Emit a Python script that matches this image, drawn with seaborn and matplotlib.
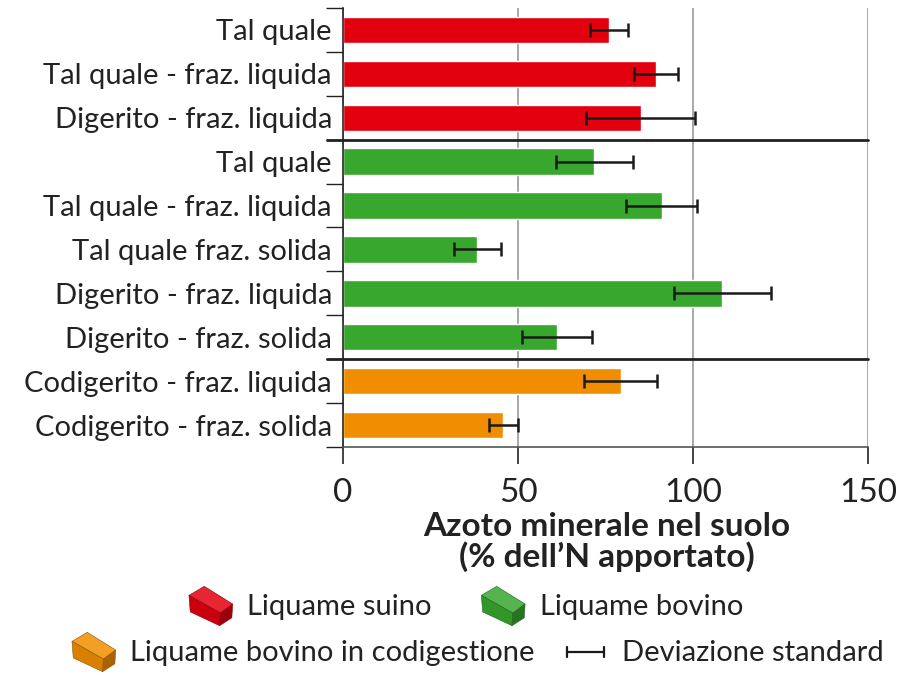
import numpy as np
import pandas as pd
import seaborn as sns
import matplotlib.pyplot as plt
import matplotlib.colors as mcolors
from matplotlib.patches import Patch, Polygon
from matplotlib.lines import Line2D
from matplotlib.legend_handler import HandlerBase

# dati
etichette = ['Tal quale', 'Tal quale - fraz. liquida', 'Digerito - fraz. liquida',
             'Tal quale', 'Tal quale - fraz. liquida', 'Tal quale fraz. solida',
             'Digerito - fraz. liquida', 'Digerito - fraz. solida',
             'Codigerito - fraz. liquida', 'Codigerito - fraz. solida']
gruppi = ['suino'] * 3 + ['bovino'] * 5 + ['codigestione'] * 2
valori = [76, 89.3, 85, 71.8, 91, 38.4, 108.4, 61, 79.3, 45.8]
dev_std = [5.4, 6.3, 15.5, 11, 10.1, 6.8, 13.8, 10, 10.5, 4.2]
tick_x = [0, 50, 100, 150]
separatori = [2.5, 7.5]

colori = {'suino': '#E2000F', 'bovino': '#37A72E', 'codigestione': '#F18E00'}
legenda1 = ['Liquame suino', 'Liquame bovino']
legenda2 = ['Liquame bovino in codigestione', 'Deviazione standard']

sns.set_theme(style='white')
plt.rcParams['font.family'] = ['Lato', 'DejaVu Sans']
FS = 21


class HandlerBox(HandlerBase):
    # mattoncino 3D come nella legenda originale
    def create_artists(self, legend, orig_handle, xdescent, ydescent,
                       width, height, fontsize, trans):
        c = np.array(mcolors.to_rgb(orig_handle.get_facecolor()))
        x0, y0, w, h = -xdescent, -ydescent, width, height

        def P(pts, col):
            col = np.clip(col, 0, 1)
            return Polygon([(x0 + a * w, y0 + b * h) for a, b in pts],
                           closed=True, facecolor=col, edgecolor=c * 0.6,
                           lw=0.4, transform=trans)
        top = P([(0, .77), (.35, 1), (1, .55), (.72, .32)], c + (1 - c) * 0.15)
        front = P([(0, .77), (.72, .32), (.7, 0), (.03, .35)], c * 0.9)
        side = P([(.72, .32), (1, .55), (.98, .2), (.7, 0)], c * 0.7)
        return [top, front, side]


class ErrKey:
    pass


class HandlerErr(HandlerBase):
    def create_artists(self, legend, orig_handle, xdescent, ydescent,
                       width, height, fontsize, trans):
        x0, y0, w, h = -xdescent, -ydescent, width, height
        ym = y0 + h / 2
        a, b = x0 + 0.08 * w, x0 + 0.92 * w
        st = dict(color='#1a1a1a', lw=1.6, transform=trans)
        return [Line2D([a, b], [ym, ym], **st),
                Line2D([a, a], [ym - 0.12 * h, ym + 0.12 * h], **st),
                Line2D([b, b], [ym - 0.12 * h, ym + 0.12 * h], **st)]


fig = plt.figure(figsize=(9.17, 6.82), dpi=100)
ax = fig.add_axes([343 / 917, 1 - 447 / 682, 525 / 917, 439 / 682])

df = pd.DataFrame({'id': [str(i) for i in range(len(valori))],
                   'valore': valori, 'gruppo': gruppi})
sns.barplot(data=df, x='valore', y='id', hue='gruppo', palette=colori,
            dodge=False, width=0.6, saturation=1, legend=False, ax=ax,
            orient='h', errorbar=None)
ax.errorbar(valori, np.arange(len(valori)), xerr=dev_std, fmt='none',
            ecolor='#1a1a1a', elinewidth=1.8, capsize=5, capthick=1.8, zorder=5)

ax.set_xlim(0, 150)
ax.set_ylim(len(valori) - 0.5, -0.5)
ax.set_xticks(tick_x)
ax.set_xticklabels([str(t) for t in tick_x], fontsize=24, color='#222')
ax.set_yticks(range(len(etichette)))
ax.set_yticklabels(etichette, fontsize=FS, color='#222')
ax.set_yticks(np.arange(-0.5, len(valori), 1), minor=True)
ax.tick_params(axis='y', which='major', length=0, pad=8)
ax.tick_params(axis='y', which='minor', length=12, width=1, color='#222', left=True)
ax.tick_params(axis='x', length=12, width=1.2, color='#222', pad=10, bottom=True)
ax.xaxis.grid(True, color='#999999', lw=1.2)
ax.set_axisbelow(True)
ax.set_xlabel('')
ax.set_ylabel('')
for s in ['top', 'right']:
    ax.spines[s].set_visible(False)
ax.spines['left'].set_color('#222')
ax.spines['left'].set_linewidth(1.2)
ax.spines['bottom'].set_color('#555')
ax.spines['bottom'].set_linewidth(1.2)

for yb in separatori:
    ax.plot([-0.03, 1], [yb, yb], transform=ax.get_yaxis_transform(),
            color='#222', lw=2, clip_on=False, zorder=6)

fig.text(607 / 917, 1 - 542 / 682, 'Azoto minerale nel suolo\n(% dell’N apportato)',
         ha='center', va='center', fontsize=24, fontweight='bold',
         color='#222', linespacing=1.0)

kw = dict(loc='center', ncol=2, frameon=False, fontsize=FS, handlelength=1.5,
          handleheight=1.7, handletextpad=0.5, labelcolor='#222')
leg1 = fig.legend([Patch(facecolor=colori['suino']), Patch(facecolor=colori['bovino'])],
                  legenda1, bbox_to_anchor=(466 / 917, 1 - 606 / 682),
                  columnspacing=1.7, handler_map={Patch: HandlerBox()}, **kw)
leg2 = fig.legend([Patch(facecolor=colori['codigestione']), ErrKey()],
                  legenda2, bbox_to_anchor=(478 / 917, 1 - 652 / 682),
                  columnspacing=1.0, handler_map={Patch: HandlerBox(), ErrKey: HandlerErr()}, **kw)

fig.savefig('out.png', dpi=100)
